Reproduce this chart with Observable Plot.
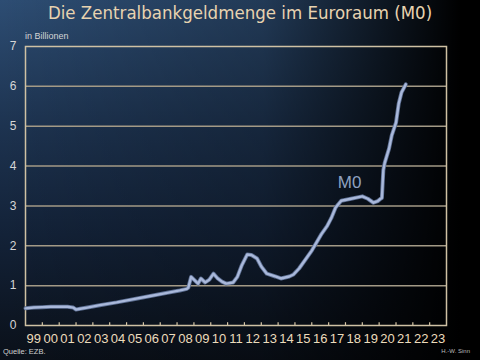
<!DOCTYPE html>
<html>
<head>
<meta charset="utf-8">
<script src="https://cdn.jsdelivr.net/npm/d3@7"></script>
<script src="https://cdn.jsdelivr.net/npm/@observablehq/plot@0.6"></script>
<style>
  html, body { margin: 0; padding: 0; background: #000; }
  #wrap {
    position: relative; width: 480px; height: 360px; overflow: hidden;
    background:
      linear-gradient(to right, rgba(0,0,0,0) 0%, rgba(0,0,0,0.25) 55%, rgba(0,0,0,0.85) 88%, rgba(0,0,0,1) 96%),
      linear-gradient(to bottom, #2d4d73 0%, #1d3350 35%, #132238 65%, #0a1019 100%);
    font-family: "Liberation Sans", Arial, sans-serif;
  }
  #chart { position: absolute; left: 0; top: 0; }
  .title { position: absolute; left: 0; width: 480px; top: 2px; text-align: center;
    font-size: 18.5px; color: #e8d3b0; font-family: "DejaVu Sans Condensed", "Liberation Sans", sans-serif; }
  .unit { position: absolute; left: 25px; top: 31px; font-size: 9px; color: #d4d4d4; }
  .src { position: absolute; left: 3px; top: 347px; font-size: 7.5px; color: #d0d0d0; }
  .auth { position: absolute; right: 10px; top: 348px; font-size: 6px; color: #bbbbbb; }
</style>
</head>
<body>
<div id="wrap">
  <div id="chart"></div>
  <div class="title">Die Zentralbankgeldmenge im Euroraum (M0)</div>
  <div class="unit">in Billionen</div>
  <div class="src">Quelle: EZB.</div>
  <div class="auth">H.-W. Sinn</div>
</div>
<script>
// Data, values in Billionen (trillion) EUR
const dates = ["1999-01","1999-07","2000-01","2000-07","2001-01","2001-07","2001-11","2002-01","2002-04","2002-09",
  "2003-06","2004-06","2005-06","2006-06","2007-06","2008-03","2008-08","2008-09","2008-11","2009-01",
  "2009-04","2009-06","2009-09","2009-12","2010-03","2010-06","2010-09","2010-12","2011-05","2011-08",
  "2011-11","2012-03","2012-06","2012-10","2013-01","2013-05","2013-11","2014-03","2014-09","2014-12",
  "2015-04","2015-09","2016-01","2016-04","2016-08","2016-12","2017-03","2017-06","2017-10","2018-05",
  "2019-01","2019-05","2019-09","2019-12","2020-02","2020-03","2020-04","2020-05","2020-08","2020-10",
  "2021-01","2021-03","2021-05","2021-08"];
const m0 = [0.43,0.45,0.46,0.47,0.47,0.47,0.45,0.40,0.42,0.45,
  0.51,0.58,0.66,0.74,0.82,0.88,0.92,0.95,1.22,1.15,
  1.05,1.18,1.08,1.15,1.30,1.18,1.10,1.05,1.08,1.22,
  1.50,1.78,1.77,1.68,1.48,1.30,1.23,1.18,1.23,1.28,
  1.43,1.68,1.88,2.06,2.30,2.50,2.70,2.96,3.13,3.18,
  3.24,3.18,3.08,3.12,3.18,3.20,3.90,4.08,4.43,4.77,
  5.09,5.57,5.85,6.05];
const years = d3.range(1999, 2024);            // year labels 99 .. 23
const yTicks = [0,1,2,3,4,5,6,7];
const gridValues = [1,2,3,4,5,6];
const seriesLabel = "M0";
const seriesLabelDate = "2018-04";
const seriesLabelValue = 3.59;

const parse = d3.utcParse("%Y-%m");
const data = dates.map((d, i) => ({date: parse(d), value: m0[i]}));
const yearStarts = years.slice(1).map(y => ({date: new Date(Date.UTC(y, 0, 1))}));
const yearMids = years.map(y => new Date(Date.UTC(y, 6, 1)));

const chart = Plot.plot({
  width: 480, height: 360,
  marginLeft: 25, marginRight: 34, marginTop: 46, marginBottom: 35,
  style: {background: "transparent", fontFamily: "Liberation Sans, Arial, sans-serif"},
  x: {type: "utc", domain: [new Date(Date.UTC(1999,0,1)), new Date(Date.UTC(2024,0,1))]},
  y: {domain: [0, 7]},
  marks: [
    Plot.ruleY(gridValues, {stroke: "#a39a86", strokeWidth: 1.5}),
    Plot.ruleX(yearStarts, {x: "date", y1: 0, y2: 0.07, stroke: "#d8c8a8", strokeWidth: 1.2}),
    Plot.frame({stroke: "#cfc1a4", strokeWidth: 1.5}),
    Plot.axisY({ticks: yTicks, tickSize: 0, tickPadding: 9, label: null, fontSize: 12, color: "#d6d6d6",
      tickFormat: d => String(d)}),
    Plot.axisX({ticks: yearMids, tickSize: 0, tickPadding: 8, label: null, fontSize: 13,
      color: "#ecdcbc", tickFormat: d3.utcFormat("%y")}),
    Plot.line(data, {x: "date", y: "value", stroke: "#5d6f92", strokeWidth: 4, strokeLinejoin: "round"}),
    Plot.line(data, {x: "date", y: "value", stroke: "#a9b8da", strokeWidth: 2.4, strokeLinejoin: "round"}),
    Plot.text([seriesLabel], {x: () => parse(seriesLabelDate), y: () => seriesLabelValue, text: d => d,
      fill: "#8fa1c0", fontSize: 17})
  ]
});
document.getElementById("chart").appendChild(chart);
</script>
</body>
</html>
